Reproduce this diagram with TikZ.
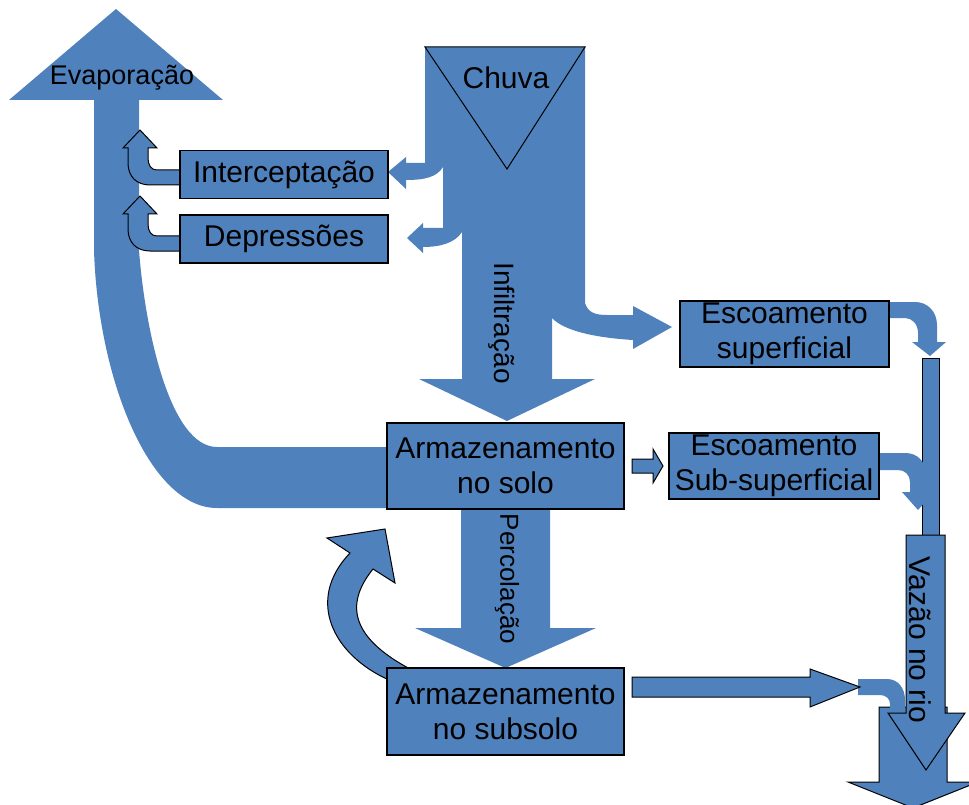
\documentclass[tikz,border=0pt]{standalone}
\usepackage{fontspec}
\setmainfont{Liberation Sans}
\definecolor{ob}{RGB}{79,129,189}
\begin{document}
\begin{tikzpicture}[x=1pt,y=-1pt,
 flow/.style={fill=ob},
 oflow/.style={fill=ob,draw=black,line width=1pt,line join=miter},
 box/.style={draw=black,line width=1.3pt,fill=ob,inner sep=0pt,align=center,font=\fontsize{30}{35}\selectfont},
 lbl/.style={inner sep=0pt,font=\fontsize{30}{35}\selectfont}]
\useasboundingbox (0,0) rectangle (969,805);
\clip (0,0) rectangle (969,805);

% Evaporacao arrow
\fill[flow] (9,100) -- (116,9) -- (223,100) -- (139,100) -- (139,250)
  .. controls (145,330) and (170,447) .. (217,447) -- (392,447) -- (392,508) -- (217,508)
  .. controls (150,508) and (98,380) .. (94,250) -- (94,100) -- cycle;

% Chuva block
\fill[flow] (425,47) -- (585,47) -- (585,303) .. controls (588,312) and (594,315) .. (607,315)
  -- (633,315) -- (633,306) -- (672,327) -- (633,349) -- (633,340)
  .. controls (600,338) and (565,332) .. (552,318)
  -- (552,379) -- (595,379) -- (507,421) -- (419,379) -- (462,379) -- (462,232)
  .. controls (455,243) and (440,247) .. (423,247) -- (423,253) -- (407,238) -- (423,223) -- (423,228)
  -- (443,228) -- (443,167) .. controls (437,177) and (425,180) .. (406,180)
  -- (406,189) -- (388,172) -- (406,157) -- (406,163) -- (425,163) -- cycle;
\draw[black,line width=1pt] (425,47) -- (585,47) -- (507,169) -- cycle;
\node[lbl] (chuva) at (506,78) {Chuva};
\node[inner sep=0pt,font=\fontsize{28}{33}\selectfont,rotate=-90] (infil) at (502,323) {Infiltração};

% Percolacao
\fill[flow] (461,505) -- (550,505) -- (550,628) -- (596,628) -- (505.5,668) -- (415,628) -- (461,628) -- cycle;

% big lower arrow (behind)
\filldraw[oflow] (879,707) -- (947,707) -- (947,782) -- (978,782) -- (913,808) -- (848,782) -- (879,782) -- cycle;
% bent connector into it
\fill[flow] (858,679) -- (887,679) .. controls (898,679) and (905,688) .. (905,700) -- (905,712)
  -- (890,712) -- (890,704) .. controls (890,699) and (886,695) .. (880,695) -- (858,695) -- cycle;

% thin bar
\filldraw[oflow] (922,358) rectangle (939,537);
% Vazao arrow
\filldraw[oflow] (906,535) -- (945,535) -- (945,713) -- (965,713) -- (926,770) -- (888,713) -- (906,713) -- cycle;

% Escoamento superficial -> bar
\fill[flow] (889,302) -- (915,302) .. controls (928,302) and (937,312) .. (937,325) -- (937,342)
  -- (946,342) -- (930,356) -- (912,342) -- (918,342) -- (918,333)
  .. controls (918,324) and (912,318) .. (905,318) -- (889,318) -- cycle;
% Escoamento sub-superficial -> bar
\fill[flow] (880,453) -- (905,453) .. controls (918,453) and (926,462) .. (926,475) -- (926,492)
  -- (934,492) -- (918,510) -- (902,492) -- (910,492) -- (910,482)
  .. controls (910,475) and (905,470) .. (898,470) -- (880,470) -- cycle;

% solo -> sub-superficial
\filldraw[oflow] (632,459) -- (653,459) -- (653,449) -- (663,466) -- (653,483) -- (653,473) -- (632,473) -- cycle;
% subsolo -> rio
\filldraw[oflow] (632,677) -- (810,677) -- (810,669) -- (860,687) -- (810,707) -- (810,697) -- (632,697) -- cycle;

% small arrows to evaporation
\filldraw[oflow] (182,170) -- (157,170) .. controls (151,170) and (148,165) .. (148,158) -- (148,148)
  -- (157,148) -- (140,130) -- (123,148) -- (128,148) -- (128,163)
  .. controls (128,177) and (137,185) .. (150,185) -- (182,185) -- cycle;
\filldraw[oflow] (182,236) -- (157,236) .. controls (151,236) and (148,231) .. (148,224) -- (148,214)
  -- (157,214) -- (140,196) -- (123,214) -- (128,214) -- (128,229)
  .. controls (128,243) and (137,251) .. (150,251) -- (182,251) -- cycle;

% subsolo -> solo curved arrow
\filldraw[oflow] (389,680) .. controls (333,655) and (305,600) .. (350,553) -- (327,538) -- (385,529)
  -- (395,583) -- (373,569) .. controls (348,600) and (345,635) .. (412,670) -- cycle;

% boxes
\node[box,minimum width=208pt,minimum height=48pt] (interc) at (284,174.5) {Interceptação};
\node[box,minimum width=208pt,minimum height=48pt] (depr) at (284,239) {Depressões};
\node[box,minimum width=209pt,minimum height=66pt] (escsup) at (784.5,334) {Escoamento\\superficial};
\node[box,minimum width=237pt,minimum height=86pt] (solo) at (505.5,466) {Armazenamento\\no solo};
\node[box,minimum width=210pt,minimum height=66pt] (escsub) at (774,466) {Escoamento\\Sub-superficial};
\node[box,minimum width=237pt,minimum height=87pt] (subsolo) at (505.5,711.5) {Armazenamento\\no subsolo};

% labels
\node[inner sep=0pt,font=\fontsize{27}{32}\selectfont] (evap) at (122,78) {Evaporação};
\node[inner sep=0pt,font=\fontsize{26}{30}\selectfont,rotate=-90] (perc) at (507,579) {Percolação};
\node[lbl,rotate=-90] (vazao) at (920,640) {Vazão no rio};
\end{tikzpicture}
\end{document}
